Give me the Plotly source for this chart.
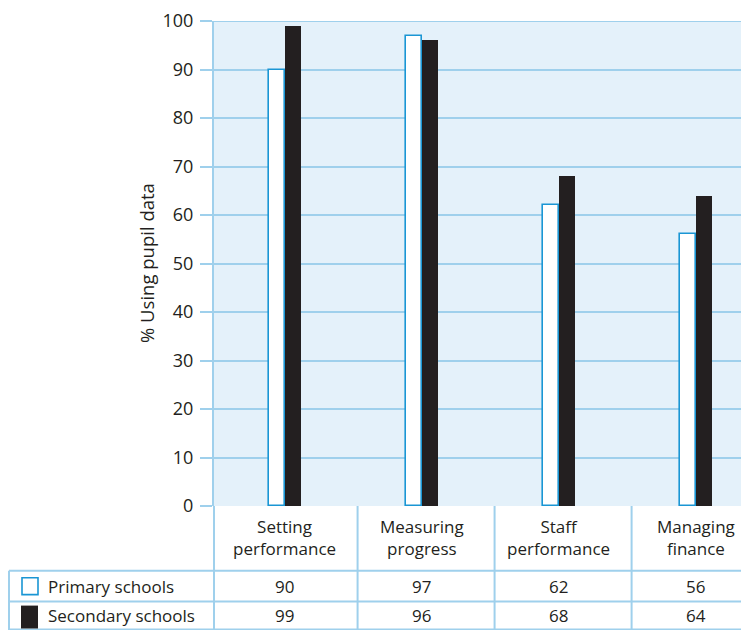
import plotly.graph_objects as go

categories = ["Setting<br>performance", "Measuring<br>progress", "Staff<br>performance", "Managing<br>finance"]
series_names = ["Primary schools", "Secondary schools"]
primary = [90, 97, 62, 56]
secondary = [99, 96, 68, 64]
y_ticks = [0, 10, 20, 30, 40, 50, 60, 70, 80, 90, 100]

# page has an 8px body margin; figure drawn at (8, 8)
OFF = 8
W, H = 749 - OFF, 630 - OFF
L, T, B = 214 - OFF, 19 - OFF, 124
plot_h = H - T - B
plot_w = W - L

FONT = "Open Sans"
TXT = "#231f20"
LINE = "#9fd0ec"
BLUE = "#1a96d4"

xs = list(range(len(categories)))
bw = 0.117

fig = go.Figure()
fig.add_trace(go.Bar(x=xs, y=primary, width=bw, offset=-bw, name=series_names[0],
                     marker=dict(color="white", line=dict(color=BLUE, width=1.6)),
                     hoverinfo="y"))
fig.add_trace(go.Bar(x=xs, y=secondary, width=bw, offset=0, name=series_names[1],
                     marker=dict(color=TXT, line=dict(width=0)), hoverinfo="y"))

def py(p):
    # page pixel y -> paper y
    return (H - B - (p - OFF)) / plot_h

def px(p):
    # page pixel x -> paper x
    return (p - OFF - L) / plot_w

shapes = []
# top gridline (edge of plot area)
shapes.append(dict(type="line", xref="paper", yref="y", x0=-12 / plot_w, x1=1.0,
                   y0=y_ticks[-1], y1=y_ticks[-1], layer="below", line=dict(color=LINE, width=2)))
for yy in [571, 602, 630]:
    shapes.append(dict(type="line", xref="paper", yref="paper", x0=px(9), x1=1.0,
                       y0=py(yy), y1=py(yy), line=dict(color=LINE, width=2)))
shapes.append(dict(type="line", xref="paper", yref="paper", x0=px(9), x1=px(9),
                   y0=py(571), y1=py(632), line=dict(color=LINE, width=2)))
shapes.append(dict(type="line", xref="paper", yref="paper", x0=0, x1=0,
                   y0=0, y1=py(632), line=dict(color=LINE, width=2)))
for sx in [0.53, 1.53, 2.53]:
    shapes.append(dict(type="line", xref="x", yref="paper", x0=sx, x1=sx,
                       y0=0, y1=py(632), line=dict(color=LINE, width=2)))
shapes.append(dict(type="rect", xref="paper", yref="paper", x0=px(22), x1=px(38),
                   y0=py(595), y1=py(578), fillcolor="white", line=dict(color=BLUE, width=1.6)))
shapes.append(dict(type="rect", xref="paper", yref="paper", x0=px(21), x1=px(38),
                   y0=py(629), y1=py(606), fillcolor=TXT, line=dict(width=0)))

def txt(x, xref, y, text, xanchor="center", angle=0, size=17):
    return dict(x=x, xref=xref, y=y, yref="paper", text=text, showarrow=False,
                textangle=angle, font=dict(family=FONT, size=size, color=TXT),
                xanchor=xanchor, yanchor="middle", align="center")

annotations = []
for i, c in enumerate(categories):
    annotations.append(txt(i, "x", py(538), c))
    annotations.append(txt(i, "x", py(587), str(primary[i])))
    annotations.append(txt(i, "x", py(616), str(secondary[i])))
annotations.append(txt(px(46), "paper", py(587), series_names[0], xanchor="left"))
annotations.append(txt(px(46), "paper", py(616), series_names[1], xanchor="left"))
annotations.append(txt(px(146), "paper", py(262), "% Using pupil data", angle=-90, size=18.5))

fig.update_layout(
    width=W, height=H,
    margin=dict(l=L, r=0, t=T, b=B),
    paper_bgcolor="white",
    plot_bgcolor="#e4f1fa",
    showlegend=False,
    bargap=0,
    xaxis=dict(range=[-0.518, 3.387], showticklabels=False, showgrid=False, zeroline=False,
               showline=False, ticks=""),
    yaxis=dict(range=[0, 100], tickvals=y_ticks, showgrid=True, gridcolor=LINE, gridwidth=2,
               zeroline=False, showline=True, linecolor=LINE, linewidth=2,
               ticks="outside", ticklen=12, tickcolor=LINE, tickwidth=2,
               ticklabeloverflow="allow", ticklabelstandoff=3,
               tickfont=dict(family=FONT, size=18, color=TXT)),
    shapes=shapes,
    annotations=annotations,
)

fig.write_html("out.html")
